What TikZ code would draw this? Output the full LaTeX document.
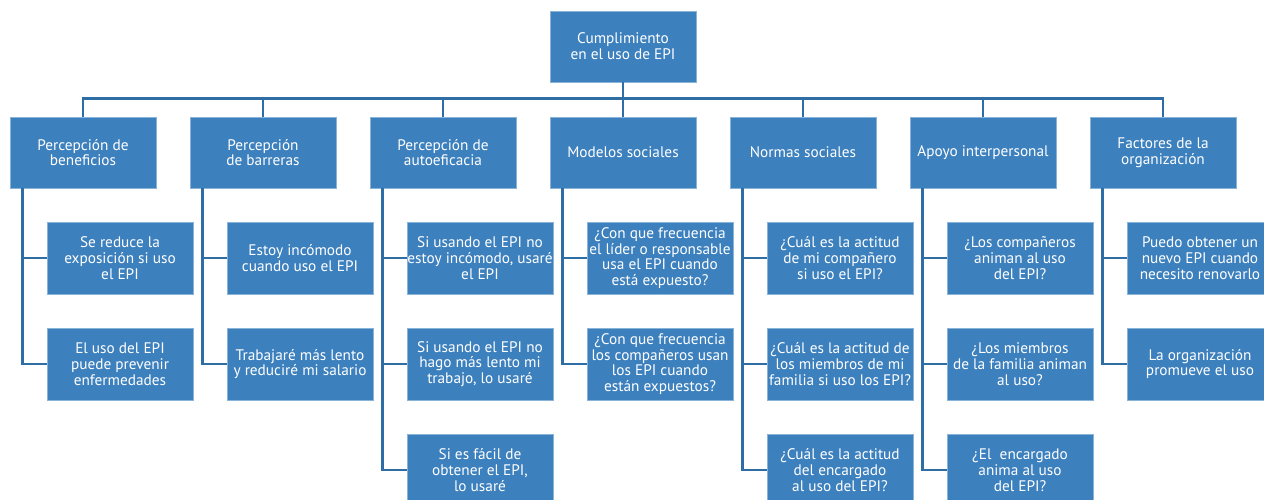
\documentclass[tikz,border=0pt]{standalone}
\usepackage{fontspec}
\setmainfont{PT Sans}
\definecolor{boxblue}{HTML}{3C80BE}
\definecolor{lineblue}{HTML}{2F6DA5}
\begin{document}
\begin{tikzpicture}[x=1pt,y=-1pt,
  box/.style={rectangle, fill=boxblue, draw=boxblue!60!white, line width=0.6pt,
    minimum width=146pt, minimum height=71pt, inner sep=0pt, text=white,
    align=center, font=\fontsize{15.3}{15.8}\selectfont},
  cbox/.style={box, minimum height=72pt},
  conn/.style={draw=lineblue, line width=2.6pt}]
\useasboundingbox (0,0) rectangle (1264,500);
\clip (0,0) rectangle (1264,500);
% top
\node[box] (top) at (623,46.5) {Cumplimiento\\en el uso de EPI};
% level 2
\node[box] (l1) at (83,152.5) {Percepción de\\beneficios};
\node[box] (l2) at (263,152.5) {Percepción\\de barreras};
\node[box] (l3) at (443,152.5) {Percepción de\\autoeficacia};
\node[box] (l4) at (623,152.5) {Modelos sociales};
\node[box] (l5) at (803,152.5) {Normas sociales};
\node[box] (l6) at (983,152.5) {Apoyo interpersonal};
\node[box] (l7) at (1163,152.5) {Factores de la\\organización};
% children
\node[cbox] (c11) at (120,258) {Se reduce la\\exposición si uso\\el EPI};
\node[cbox] (c12) at (120,364) {El uso del EPI\\puede prevenir\\enfermedades};
\node[cbox] (c21) at (300,258) {Estoy incómodo\\cuando uso el EPI};
\node[cbox] (c22) at (300,364) {Trabajaré más lento\\y reduciré mi salario};
\node[cbox] (c31) at (480,258) {Si usando el EPI no\\estoy incómodo, usaré\\el EPI};
\node[cbox] (c32) at (480,364) {Si usando el EPI no\\hago más lento mi\\trabajo, lo usaré};
\node[cbox] (c33) at (480,470) {Si es fácil de\\obtener el EPI,\\lo usaré};
\node[cbox] (c41) at (660,258) {¿Con que frecuencia\\el líder o responsable\\usa el EPI cuando\\está expuesto?};
\node[cbox] (c42) at (660,364) {¿Con que frecuencia\\los compañeros usan\\los EPI cuando\\están expuestos?};
\node[cbox] (c51) at (840,258) {¿Cuál es la actitud\\de mi compañero\\si uso el EPI?};
\node[cbox] (c52) at (840,364) {¿Cuál es la actitud de\\los miembros de mi\\familia si uso los EPI?};
\node[cbox] (c53) at (840,470) {¿Cuál es la actitud\\del encargado\\al uso del EPI?};
\node[cbox] (c61) at (1020,258) {¿Los compañeros\\animan al uso\\del EPI?};
\node[cbox] (c62) at (1020,364) {¿Los miembros\\de la familia animan\\al uso?};
\node[cbox] (c63) at (1020,470) {¿El\ \ encargado\\anima al uso\\del EPI?};
\node[cbox] (c71) at (1200,258) {Puedo obtener un\\nuevo EPI cuando\\necesito renovarlo};
\node[cbox] (c72) at (1200,364) {La organización\\promueve el uso};
% bus
\coordinate (bus) at (623,98.5);
\draw[conn] (top.south) -- (l4.north);
\draw[conn] ([xshift=-1.3pt]l1.north |- bus) -- ([xshift=1.3pt]l7.north |- bus);
\foreach \i in {1,2,3,5,6,7} {
  \draw[conn] (l\i.north |- bus) -- (l\i.north);
}
% spines
\foreach \i in {1,...,7} {
  \coordinate (s\i) at ([xshift=13pt]l\i.south west);
}
\draw[conn] (s1) |- (c11.west); \draw[conn] (s1) |- (c12.west);
\draw[conn] (s2) |- (c21.west); \draw[conn] (s2) |- (c22.west);
\draw[conn] (s3) |- (c31.west); \draw[conn] (s3) |- (c32.west); \draw[conn] (s3) |- (c33.west);
\draw[conn] (s4) |- (c41.west); \draw[conn] (s4) |- (c42.west);
\draw[conn] (s5) |- (c51.west); \draw[conn] (s5) |- (c52.west); \draw[conn] (s5) |- (c53.west);
\draw[conn] (s6) |- (c61.west); \draw[conn] (s6) |- (c62.west); \draw[conn] (s6) |- (c63.west);
\draw[conn] (s7) |- (c71.west); \draw[conn] (s7) |- (c72.west);
\end{tikzpicture}
\end{document}
